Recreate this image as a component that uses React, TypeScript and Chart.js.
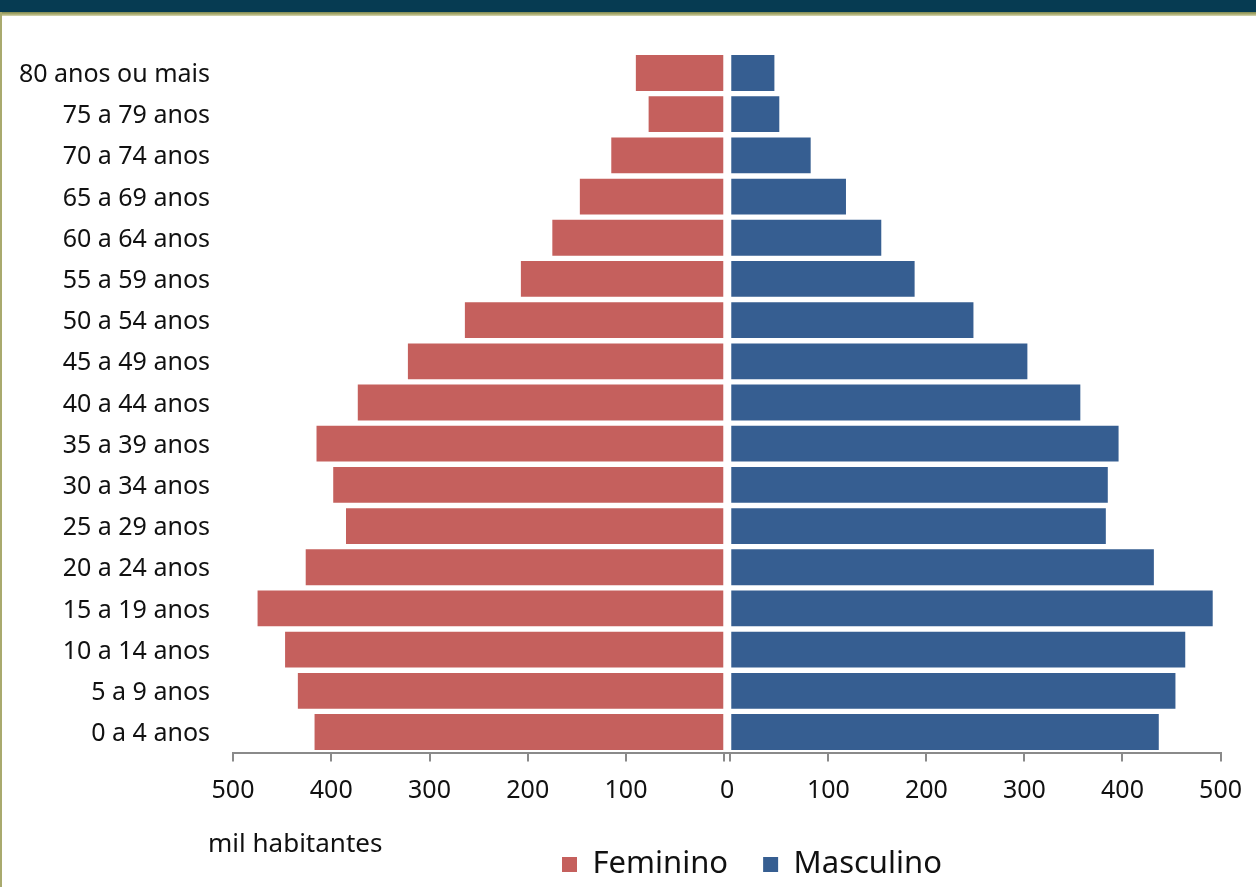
import { useEffect, useRef } from "react";
import { Chart, registerables } from "chart.js";

Chart.register(...registerables);

// ---- data ----
const AGE_GROUPS = [
  "0 a 4 anos", "5 a 9 anos", "10 a 14 anos", "15 a 19 anos", "20 a 24 anos",
  "25 a 29 anos", "30 a 34 anos", "35 a 39 anos", "40 a 44 anos", "45 a 49 anos",
  "50 a 54 anos", "55 a 59 anos", "60 a 64 anos", "65 a 69 anos", "70 a 74 anos",
  "75 a 79 anos", "80 anos ou mais",
];
const FEMININO = [417, 434, 447, 475, 426, 385, 398, 415, 373, 322, 264, 207, 175, 147, 115, 77, 90];
const MASCULINO = [437, 454, 464, 492, 432, 383, 385, 396, 357, 303, 248, 188, 154, 118, 82, 50, 45];
const SERIES_LABELS = ["Feminino", "Masculino"];
const AXIS_MIN = 0;
const AXIS_MAX = 500;
const AXIS_STEP = 100;
const UNIT_LABEL = "mil habitantes";

// ---- style ----
const FONT = "'Noto Sans', sans-serif";
const TEXT = "#111111";
const RED = "#C5605D";
const BLUE = "#365E91";
const AXIS_GREY = "#8a8a8a";
const W = 1256;
const H = 887;
const LEGEND_BOX_START = 562;
const AXIS_H = 58.4;

function xAxis(weight: number, stackWeight: number, reverse: boolean) {
  return {
    type: "linear",
    position: "bottom",
    stack: "x",
    weight,
    stackWeight,
    reverse,
    min: AXIS_MIN,
    max: AXIS_MAX,
    grid: {
      display: true,
      drawOnChartArea: false,
      drawTicks: true,
      tickLength: 9,
      color: AXIS_GREY,
      lineWidth: 2,
    },
    border: { display: true, color: AXIS_GREY, width: 2 },
    ticks: {
      stepSize: AXIS_STEP,
      padding: 14,
      color: TEXT,
      maxRotation: 0,
      autoSkip: false,
      font: { family: FONT, size: 25 },
      // the shared zero is labelled once, by the gap axis between both halves
      callback: (v: number) => (v === 0 ? "" : String(v)),
    },
    afterFit: (s: any) => {
      s.height = AXIS_H;
    },
  };
}

const legendShift = {
  id: "legendShift",
  afterLayout(chart: any) {
    const L = chart.legend;
    if (!L) return;
    const pad = L.options.labels.padding;
    const dx = LEGEND_BOX_START - (L.left + pad);
    L.left += dx;
    L.right += dx;
    L.top += 3;
    L.bottom += 3;
  },
};

const unitLabel = {
  id: "unitLabel",
  afterDraw(chart: any) {
    const { ctx, chartArea, legend } = chart;
    ctx.save();
    ctx.font = `26px ${FONT}`;
    ctx.fillStyle = TEXT;
    ctx.textAlign = "left";
    ctx.textBaseline = "middle";
    ctx.fillText(UNIT_LABEL, chartArea.left - 25, legend.top + 31);
    ctx.restore();
  },
};

export default function App() {
  const ref = useRef<HTMLCanvasElement | null>(null);

  useEffect(() => {
    if (!ref.current) return;
    const chart = new Chart(ref.current, {
      type: "bar",
      data: {
        labels: AGE_GROUPS,
        datasets: [
          {
            label: SERIES_LABELS[0],
            data: FEMININO,
            xAxisID: "xF",
            yAxisID: "y",
            backgroundColor: RED,
            borderWidth: 0,
            grouped: false,
            barPercentage: 0.87,
            categoryPercentage: 1,
          },
          {
            label: SERIES_LABELS[1],
            data: MASCULINO,
            xAxisID: "xM",
            yAxisID: "y",
            backgroundColor: BLUE,
            borderWidth: 0,
            grouped: false,
            barPercentage: 0.87,
            categoryPercentage: 1,
          },
        ],
      },
      options: {
        indexAxis: "y",
        animation: false,
        responsive: false,
        maintainAspectRatio: false,
        layout: { padding: { top: 52.4, left: 0, right: 34, bottom: 0 } },
        scales: {
          y: {
            type: "category",
            position: "left",
            reverse: true,
            grid: { display: false },
            border: { display: false },
            ticks: {
              color: TEXT,
              padding: 15,
              labelOffset: 2,
              autoSkip: false,
              font: { family: FONT, size: 25 },
            },
            afterFit: (s: any) => {
              s.width = 233;
            },
          },
          xF: xAxis(0, 492, true),
          xGap: {
            type: "linear",
            position: "bottom",
            stack: "x",
            weight: 0.5,
            stackWeight: 6,
            min: -1,
            max: 1,
            grid: {
              display: true,
              drawOnChartArea: false,
              drawTicks: false,
              color: "rgba(0,0,0,0)",
            },
            border: { display: true, color: AXIS_GREY, width: 2 },
            ticks: {
              display: true,
              stepSize: 1,
              autoSkip: false,
              maxRotation: 0,
              padding: 23,
              color: TEXT,
              font: { family: FONT, size: 25 },
              callback: (v: number) => (v === 0 ? "0" : ""),
            },
            afterFit: (s: any) => {
              s.height = AXIS_H;
            },
          },
          xM: xAxis(1, 491, false),
        } as any,
        plugins: {
          legend: {
            display: true,
            position: "bottom",
            align: "start",
            labels: {
              boxWidth: 15,
              boxHeight: 15,
              padding: 35,
              color: TEXT,
              font: { family: FONT, size: 31 },
            },
          },
          tooltip: { enabled: false },
        },
      } as any,
      plugins: [legendShift, unitLabel],
    });
    return () => chart.destroy();
  }, []);

  return (
    <div
      style={{
        position: "fixed",
        left: 0,
        top: 0,
        width: W,
        height: H,
        background: "#ffffff",
        overflow: "hidden",
      }}
    >
      <canvas ref={ref} width={W} height={H} style={{ width: W, height: H, display: "block" }} />
      <div style={{ position: "absolute", left: 0, top: 0, width: W, height: 12, background: "#063B52" }} />
      <div
        style={{
          position: "absolute",
          left: 0,
          top: 12,
          width: W,
          height: 4,
          background: "linear-gradient(#7f8a55 0%, #a9aa6c 50%, #d6d7b4 100%)",
        }}
      />
      <div style={{ position: "absolute", left: 0, top: 12, width: 2, height: H - 12, background: "#a9aa6e" }} />
    </div>
  );
}
